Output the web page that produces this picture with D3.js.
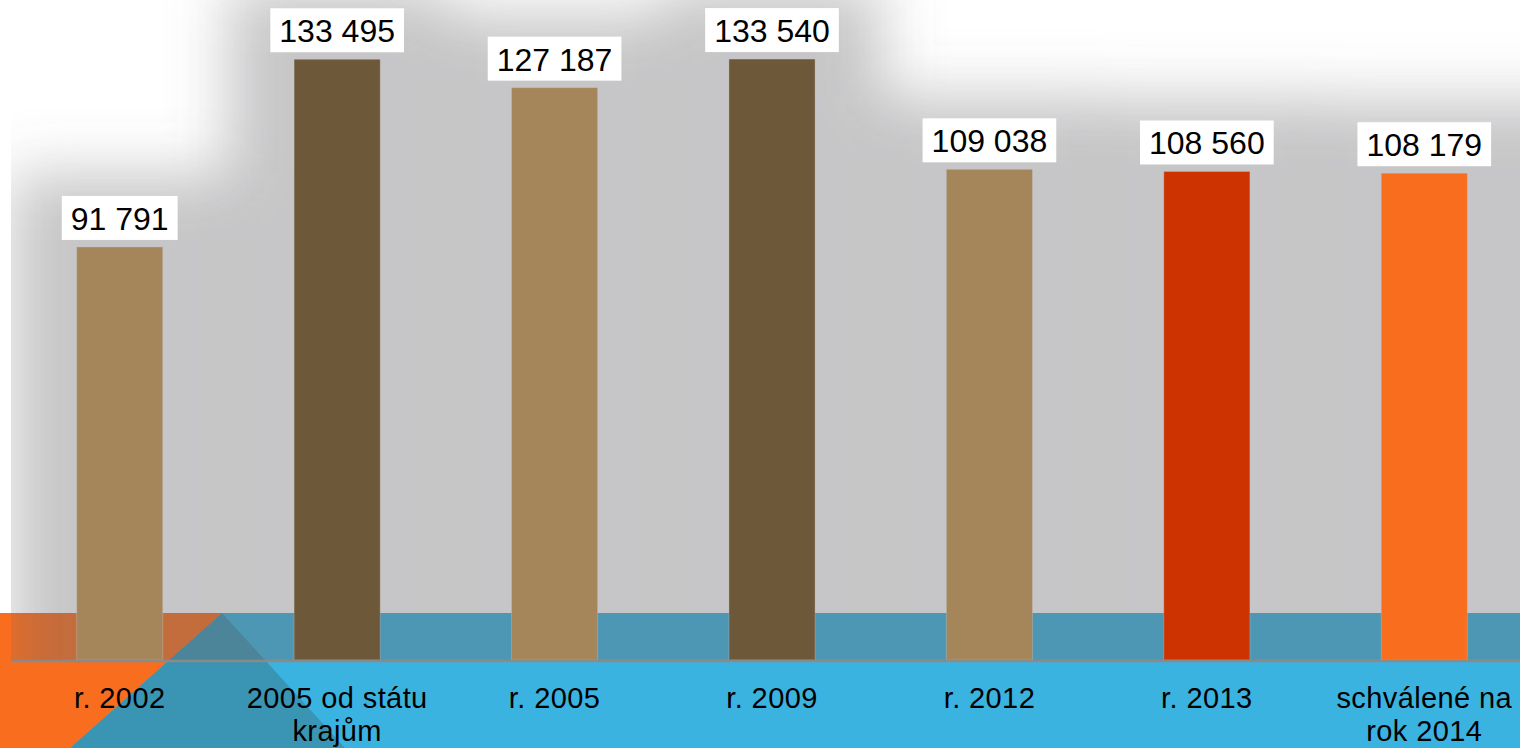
<!DOCTYPE html>
<html>
<head>
<meta charset="utf-8">
<script src="https://cdn.jsdelivr.net/npm/d3@7"></script>
<style>
  html, body { margin: 0; padding: 0; background: #fff; }
  svg { display: block; }
</style>
</head>
<body>
<div id="chart"></div>
<script>
// data
const categories = ["r. 2002", "2005 od státu krajům", "r. 2005", "r. 2009", "r. 2012", "r. 2013", "schválené na rok 2014"];
const values = [91791, 133495, 127187, 133540, 109038, 108560, 108179];
const valueLabels = ["91 791", "133 495", "127 187", "133 540", "109 038", "108 560", "108 179"];
const barColors = ["#a5865a", "#6d5839", "#a5865a", "#6d5839", "#a5865a", "#cc3300", "#f96d1e"];

const width = 1520, height = 748;
const plot = { left: 11, right: 1533, top: -15, bottom: 660 };

const svg = d3.select("#chart")
    .append("svg")
    .attr("width", width)
    .attr("height", height);

const defs = svg.append("defs");

// soft shadow behind the bars
defs.append("filter")
    .attr("id", "soft")
    .attr("filterUnits", "userSpaceOnUse")
    .attr("x", -200).attr("y", -200)
    .attr("width", width + 400).attr("height", height + 400)
    .append("feGaussianBlur")
    .attr("stdDeviation", 30);

defs.append("clipPath")
    .attr("id", "plotClip")
    .append("rect")
    .attr("x", plot.left)
    .attr("y", 0)
    .attr("width", width - plot.left)
    .attr("height", plot.bottom);

// scales
const x = d3.scaleBand()
    .domain(categories)
    .range([plot.left, plot.right])
    .paddingInner(0.604)
    .paddingOuter(0.302);

const y = d3.scaleLinear()
    .domain([0, 150000])
    .range([plot.bottom, plot.top]);

const step = x.step();
const boxH = 44, boxGap = 7;
const shadowTop = (i) => y(values[i]) - boxGap - boxH - 22;

// slide background: blue strip with orange and teal wedges
const bandTop = 613;
svg.append("rect")
    .attr("x", 0).attr("y", bandTop)
    .attr("width", width).attr("height", height - bandTop)
    .attr("fill", "#3bb3e0");
svg.append("polygon")
    .attr("points", [[222, bandTop], [70, height], [345, height]].join(" "))
    .attr("fill", "#3a95b4");
svg.append("polygon")
    .attr("points", [[0, bandTop], [222, bandTop], [70, height], [0, height]].join(" "))
    .attr("fill", "#f96d1e");

// grey skyline shadow following bars + labels
const shadow = svg.append("g")
    .attr("clip-path", "url(#plotClip)")
    .append("g")
    .attr("filter", "url(#soft)");

shadow.selectAll("rect")
    .data(categories)
    .enter()
    .append("rect")
    .attr("x", d => x(d) - (step - x.bandwidth()) / 2)
    .attr("y", (d, i) => shadowTop(i))
    .attr("width", (d, i) => i === categories.length - 1 ? step + 200 : step + 1)
    .attr("height", (d, i) => height + 100 - shadowTop(i))
    .attr("fill", "#6c6c6e")
    .attr("fill-opacity", 0.38);

// bars
svg.selectAll(".bar")
    .data(categories)
    .enter()
    .append("rect")
    .attr("class", "bar")
    .attr("x", d => x(d))
    .attr("y", (d, i) => y(values[i]))
    .attr("width", x.bandwidth())
    .attr("height", (d, i) => y(0) - y(values[i]))
    .attr("fill", (d, i) => barColors[i])
    .attr("stroke", "rgba(200,200,200,0.35)")
    .attr("stroke-width", 1);

// axis baseline
svg.append("line")
    .attr("x1", plot.left).attr("x2", width)
    .attr("y1", y(0) + 1).attr("y2", y(0) + 1)
    .attr("stroke", "#8a8a8a")
    .attr("stroke-width", 2.5);

// value labels in white boxes
const labels = svg.selectAll(".vlabel")
    .data(categories)
    .enter()
    .append("g")
    .attr("class", "vlabel");

labels.each(function (d, i) {
    const g = d3.select(this);
    const cx = x(d) + x.bandwidth() / 2;
    const bottom = y(values[i]) - boxGap;
    const rect = g.append("rect").attr("fill", "#fff");
    const t = g.append("text")
        .attr("x", cx)
        .attr("y", bottom - 10)
        .attr("text-anchor", "middle")
        .attr("font-family", "Liberation Sans, Arial, sans-serif")
        .attr("font-size", 32)
        .attr("fill", "#000")
        .text(valueLabels[i]);
    const w = t.node().getComputedTextLength() + 18;
    rect.attr("x", cx - w / 2)
        .attr("y", bottom - boxH)
        .attr("width", w)
        .attr("height", boxH);
});

// category labels, wrapped
const axisG = svg.append("g");
axisG.selectAll("text")
    .data(categories)
    .enter()
    .append("text")
    .attr("x", d => x(d) + x.bandwidth() / 2)
    .attr("y", 708)
    .attr("text-anchor", "middle")
    .attr("font-family", "Liberation Sans, Arial, sans-serif")
    .attr("font-size", 29)
    .attr("letter-spacing", 0.4)
    .attr("fill", "#000")
    .each(function (d) {
        wrap(d3.select(this), d, 205);
    });

function wrap(text, str, maxW) {
    const words = str.split(" ");
    const cx = text.attr("x");
    let line = [];
    let tspan = text.append("tspan").attr("x", cx).attr("dy", 0);
    words.forEach(w => {
        line.push(w);
        tspan.text(line.join(" "));
        if (tspan.node().getComputedTextLength() > maxW && line.length > 1) {
            line.pop();
            tspan.text(line.join(" "));
            line = [w];
            tspan = text.append("tspan").attr("x", cx).attr("dy", 33).text(w);
        }
    });
}
</script>
</body>
</html>
